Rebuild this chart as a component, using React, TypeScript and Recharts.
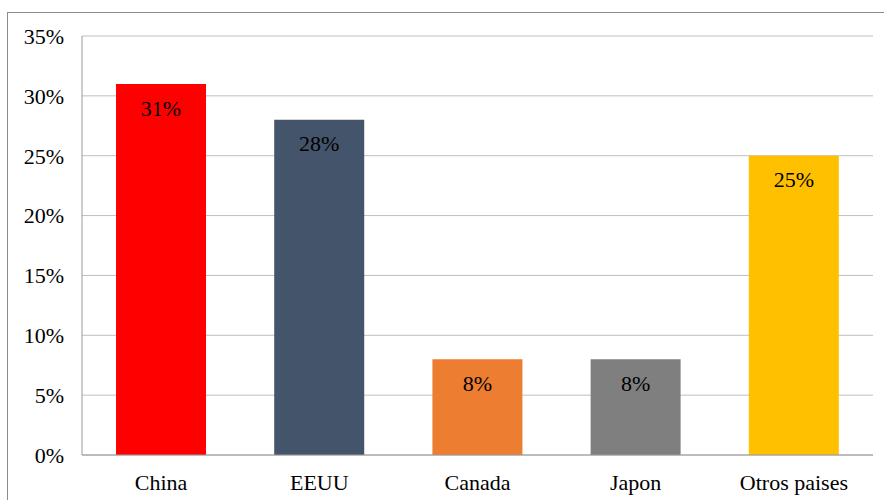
import { BarChart, Bar, XAxis, YAxis, CartesianGrid, Cell, LabelList } from "recharts";

const countries = ["China", "EEUU", "Canada", "Japon", "Otros paises"];
const shares = [0.31, 0.28, 0.08, 0.08, 0.25];
const barColors = ["#FF0000", "#44546A", "#ED7D31", "#7F7F7F", "#FFC000"];
const yTicks = [0, 0.05, 0.1, 0.15, 0.2, 0.25, 0.3, 0.35];

const data = countries.map((name, i) => ({ name, value: shares[i] }));

const pct = (v: number) => `${Math.round(v * 100)}%`;
const font = "'Liberation Serif', 'Times New Roman', serif";

export default function App() {
  return (
    <div style={{ position: "absolute", left: 0, top: 0, width: 884, height: 500, overflow: "hidden", background: "#fff" }}>
      <div
        style={{
          position: "absolute",
          left: 7,
          top: 12,
          width: 920,
          height: 520,
          border: "1px solid #8c8c8c",
        }}
      />
      <div style={{ position: "absolute", left: 0, top: 0 }}>
        <BarChart
          width={884}
          height={500}
          data={data}
          margin={{ top: 36, right: 11, left: 22, bottom: 15 }}
          barCategoryGap="21.5%"
        >
          <CartesianGrid vertical={false} stroke="#BFBFBF" strokeWidth={1} />
          <XAxis
            dataKey="name"
            height={30}
            tickLine={false}
            tickSize={0}
            tickMargin={19}
            axisLine={{ stroke: "#9a9a9a" }}
            tick={{ fill: "#000", fontSize: 22, fontFamily: font }}
          />
          <YAxis
            width={60}
            domain={[0, 0.35]}
            ticks={yTicks}
            tickFormatter={pct}
            tickLine={false}
            tickSize={0}
            tickMargin={18}
            axisLine={{ stroke: "#9a9a9a" }}
            tick={{ fill: "#000", fontSize: 22, fontFamily: font }}
          />
          <Bar dataKey="value" isAnimationActive={false}>
            {data.map((d, i) => (
              <Cell key={d.name} fill={barColors[i]} />
            ))}
            <LabelList
              dataKey="value"
              position="insideTop"
              offset={16}
              formatter={(v: any) => pct(Number(v))}
              style={{ fill: "#000", fontSize: 22, fontFamily: font }}
            />
          </Bar>
        </BarChart>
      </div>
    </div>
  );
}
